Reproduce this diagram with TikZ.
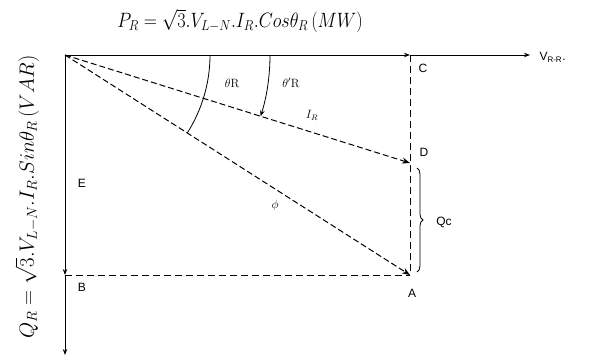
\documentclass[tikz,border=0pt]{standalone}
\usepackage{amsmath}
\usepackage{amssymb}
\usepackage{fontspec}
\setsansfont{Liberation Sans}
\usetikzlibrary{arrows.meta, positioning, decorations.pathreplacing, calc}

\begin{document}
\begin{tikzpicture}[x=1pt, y=-1pt,
    axis/.style={line width=1pt, -{Stealth[length=6pt]}},
    phasor/.style={line width=1pt, dash pattern=on 6pt off 3pt, -{Stealth[length=8pt]}},
    proj/.style={line width=1pt, dash pattern=on 7pt off 4pt},
    pt/.style={font=\sffamily\fontsize{12}{14}\selectfont}]
            \useasboundingbox (0,0) rectangle (591,359);
            % Points of the diagram
            \coordinate (O) at (65,55);
            \coordinate (C) at (410,55);
            \coordinate (D) at (410,163);
            \coordinate (A) at (410,275);
            \coordinate (B) at (65,275);
            \coordinate (Xend) at (530,55);
            \coordinate (Yend) at (65,355);
            % Axes
            \draw[axis] (O) -- (C);
            \draw[axis] (C) -- (Xend);
            \draw[axis] (O) -- (B);
            \draw[axis] (B) -- (Yend);
            \node[pt, anchor=west] (vrr) at (536,57) {V\textsubscript{R-R}.};
            % Projections
            \draw[proj] (C) -- (A);
            \draw[proj] (B) -- (A);
            % Current phasors
            \draw[phasor] (O) -- (D);
            \draw[phasor] (O) -- (A);
            \node[font=\large] (iR) at (312,115) {$I_R$};
            \node[font=\large] (iphi) at (275,205) {$\phi$};
            % Angles
            \draw[line width=0.8pt] ($(O)+(145,0)$) arc[start angle=0, end angle=32.5, radius=145];
            \draw[line width=0.8pt, -{Stealth[length=6pt]}] ($(O)+(205,0)$) arc[start angle=0, end angle=17.4, radius=205];
            \node[font=\large] (thR) at (232,83) {$\theta$R};
            \node[font=\large] (thRp) at (291,83) {$\theta'$R};
            % Capacitor reactive power
            \draw[line width=0.8pt, decorate, decoration={brace, amplitude=6pt}] ($(D)+(7,5)$) -- ($(A)+(7,-3)$);
            \node[pt] (qc) at (444,222) {Qc};
            % Point labels
            \node[pt] (lC) at (423,68) {C};
            \node[pt] (lD) at (424,152) {D};
            \node[pt] (lE) at (82,183) {E};
            \node[pt] (lB) at (82,287) {B};
            \node[pt] (lA) at (412,293) {A};
            % Power expressions
            \node[font=\fontsize{20}{24}\selectfont, xscale=0.88, inner sep=0pt] (pR) at (240,21) {$P_R=\sqrt{3}.V_{L-N}.I_R.Cos\theta_R\,(MW)$};
            \node[font=\fontsize{20}{24}\selectfont, rotate=90, inner sep=0pt] (qR) at (27,197) {$Q_R=\sqrt{3}.V_{L-N}.I_R.Sin\theta_R\,(VAR)$};
\end{tikzpicture}
\end{document}
